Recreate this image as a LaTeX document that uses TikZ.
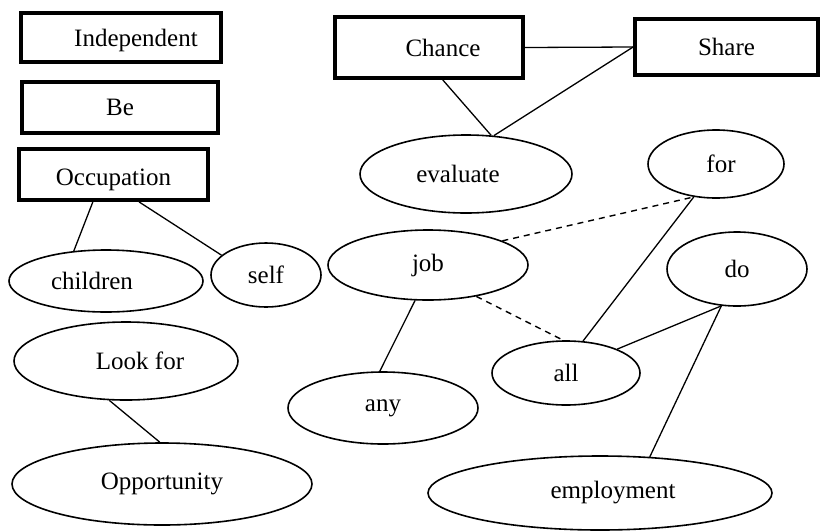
\documentclass[tikz,border=0pt]{standalone}
\usepackage{fontspec}
\setmainfont{Liberation Serif}
\usetikzlibrary{shapes.geometric}
\tikzset{
  ent/.style={draw, line width=3.8pt, rectangle, inner sep=0pt, font=\fontsize{25}{29}\selectfont},
  att/.style={draw, line width=1.6pt, ellipse, inner sep=0pt, font=\fontsize{25}{29}\selectfont},
  link/.style={line width=1.3pt},
  dlink/.style={line width=1.4pt, dash pattern=on 6pt off 5pt}
}
\begin{document}
\begin{tikzpicture}[x=1pt,y=-1pt]
\useasboundingbox (0,0) rectangle (825,531);
% entity boxes
\node[ent, minimum width=200pt, minimum height=49pt] (indep) at (121,37.5) {\makebox[30pt]{}\raisebox{-3pt}[\height][\depth]{Independent}};
\node[ent, minimum width=196pt, minimum height=51pt] (be) at (120,107.5) {Be};
\node[ent, minimum width=189pt, minimum height=51pt] (occ) at (113.5,174.5) {\raisebox{-5pt}[\height][\depth]{Occupation}};
\node[ent, minimum width=188pt, minimum height=61pt] (chance) at (429,47.5) {\makebox[28pt]{}Chance};
\node[ent, minimum width=183pt, minimum height=56pt] (share) at (726.5,47) {Share};
% attribute ellipses
\node[att, minimum width=212pt, minimum height=78pt] (eval) at (466,174) {evaluate\makebox[16pt]{}};
\node[att, minimum width=136pt, minimum height=68pt] (for) at (716,164) {\makebox[10pt]{}for};
\node[att, minimum width=194pt, minimum height=62pt] (child) at (106,281) {children\makebox[28pt]{}};
\node[att, minimum width=110pt, minimum height=64pt] (self) at (266,275) {self};
\node[att, minimum width=224pt, minimum height=78pt] (look) at (126,361) {\makebox[28pt]{}Look for};
\node[att, minimum width=300pt, minimum height=82pt] (opp) at (162,484) {Opportunity};
\node[att, minimum width=200pt, minimum height=70pt] (job) at (428,265) {job};
\node[att, minimum width=140pt, minimum height=74pt] (do) at (737,269) {do};
\node[att, minimum width=148pt, minimum height=64pt] (all) at (566,373) {all};
\node[att, minimum width=190pt, minimum height=72pt] (any) at (383,408) {any};
\node[att, minimum width=344pt, minimum height=74pt] (emp) at (600,493) {\makebox[26pt]{}employment};
% connectors
\draw[link] (chance.east) -- (share.west);
\draw[link] (chance.293) -- (eval.57);
\draw[link] (share.west) -- (eval.54);
\draw[link] (occ.233) -- (child.137);
\draw[link] (occ.313) -- (self.156);
\draw[link] (look.247) -- (opp.93);
\draw[dlink] (job.18) -- (for.236);
\draw[dlink] (job.327) -- (all.95);
\draw[link] (job.250) -- (any.95);
\draw[link] (for.236) -- (all.62);
\draw[link] (do.247) -- (all.25);
\draw[link] (do.247) -- (emp.36);
\end{tikzpicture}
\end{document}
